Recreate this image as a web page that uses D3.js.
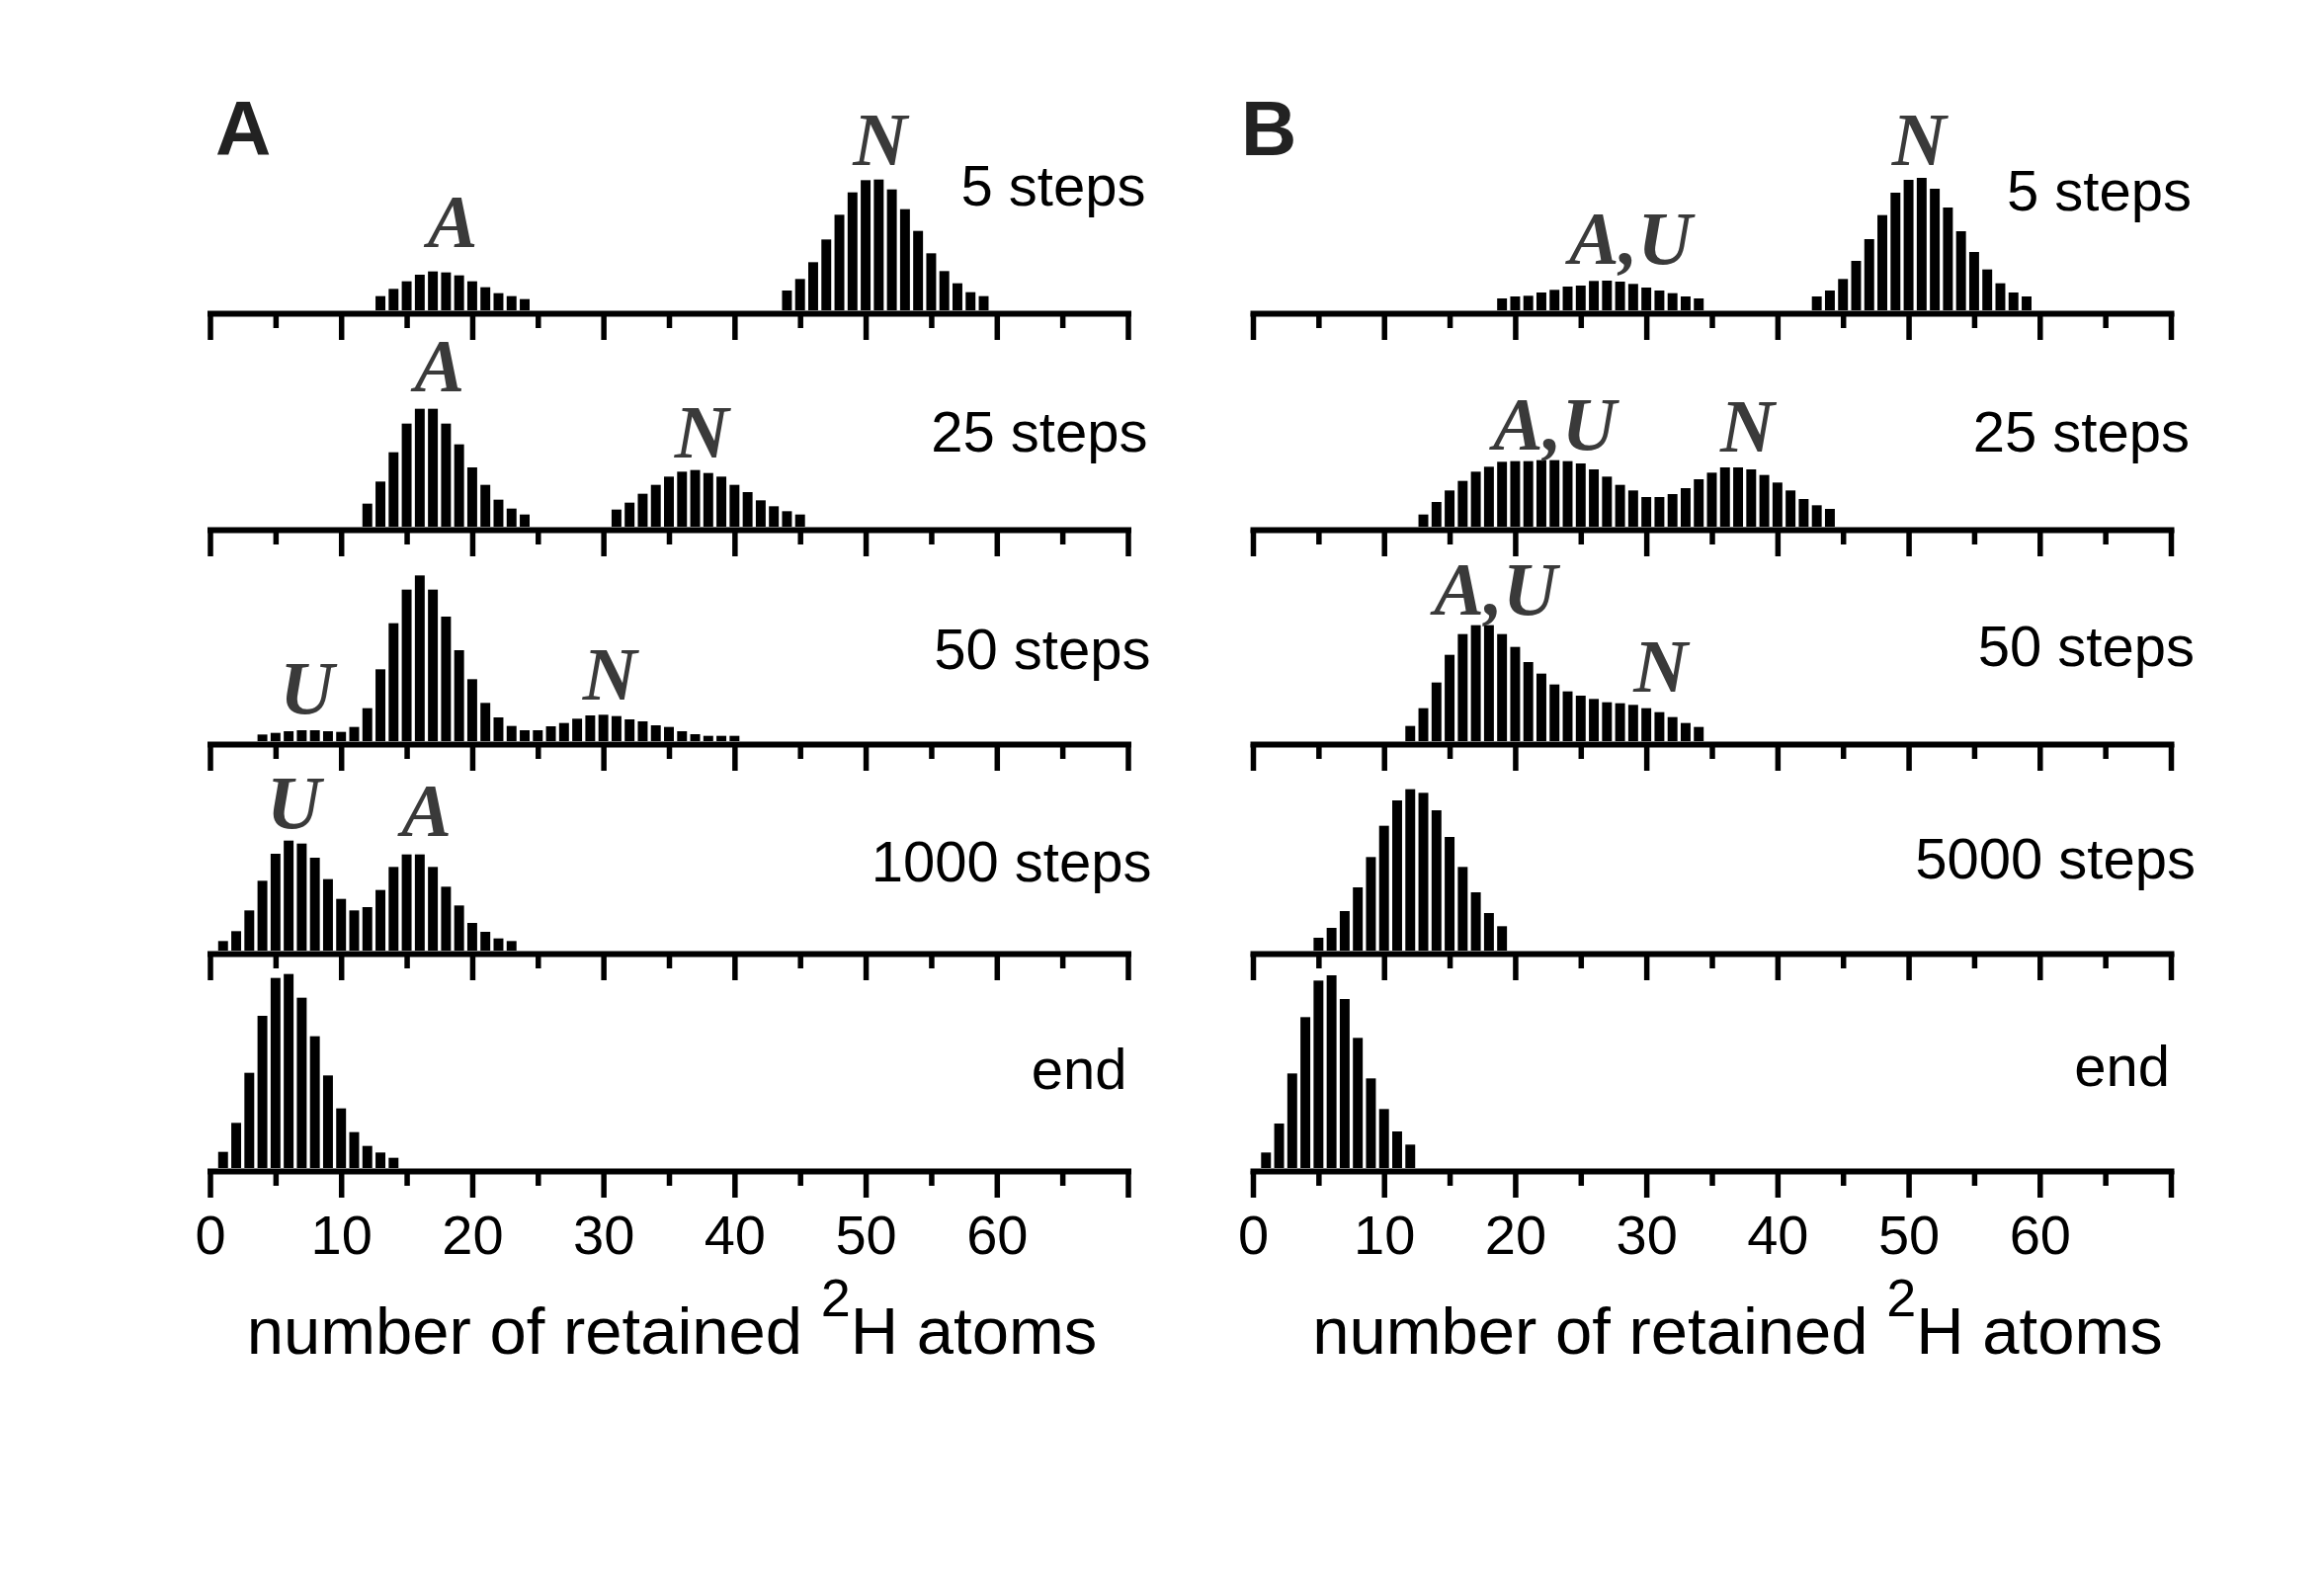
<!DOCTYPE html>
<html>
<head>
<meta charset="utf-8">
<script src="https://cdn.jsdelivr.net/npm/d3@7"></script>
<style>
  body { margin: 0; background: #fff; }
  svg { display: block; }
</style>
</head>
<body>
<svg id="chart" width="2352" height="1603"></svg>
<script>
// ---------------- DATA ----------------
// x: number of retained 2H atoms (bin centre = integer), counts in arbitrary units
const xTickValues = [0, 10, 20, 30, 40, 50, 60];
const panelLetters = ["A", "B"];
const stepLabelsA = ["5 steps", "25 steps", "50 steps", "1000 steps", "end"];
const stepLabelsB = ["5 steps", "25 steps", "50 steps", "5000 steps", "end"];
const axisTitle = "number of retained ";
const axisTitleSup = "2";
const axisTitleEnd = "H atoms";

// Panel A histograms (start bin + counts, zeros inside gaps)
const histA5 = { start: 13, counts: [43, 65, 88, 108, 118, 115, 106, 88, 70, 52, 43, 34,
  0, 0, 0, 0, 0, 0, 0, 0, 0, 0, 0, 0, 0, 0, 0, 0, 0, 0, 0,
  60, 95, 146, 215, 290, 358, 395, 397, 367, 307, 241, 173, 119, 82, 55, 43] };
const histA25 = { start: 12, counts: [70, 137, 226, 313, 358, 358, 313, 250, 180, 127, 82, 55, 37,
  0, 0, 0, 0, 0, 0,
  52, 73, 100, 127, 152, 167, 172, 163, 152, 127, 105, 80, 62, 47, 37] };
const histA50 = { start: 4, counts: [20, 25, 30, 33, 33, 30, 28, 43, 100, 218, 358, 460, 503, 460, 378,
  276, 188, 116, 72, 46, 33, 33, 45, 55, 68, 78, 80, 76, 66, 60, 48, 43, 30, 21, 16, 16, 16] };
const histA1000 = { start: 1, counts: [29, 59, 122, 212, 294, 334, 325, 282, 217, 157, 122, 132,
  184, 254, 292, 292, 254, 194, 137, 84, 57, 37, 29] };
const histAEnd = { start: 1, counts: [49, 137, 289, 462, 577, 589, 517, 400, 281, 181, 109, 67, 47, 31] };

// Panel B histograms
const histB5 = { start: 19, counts: [36, 42, 44, 54, 62, 72, 75, 89, 90, 87, 80, 69, 60, 52, 42, 36,
  0, 0, 0, 0, 0, 0, 0, 0,
  42, 60, 95, 150, 216, 289, 357, 396, 402, 369, 312, 240, 177, 124, 82, 54, 42] };
const histB25 = { start: 13, counts: [37, 75, 110, 139, 167, 182, 197, 199, 199, 202, 202, 199, 192,
  174, 152, 127, 110, 90, 90, 99, 117, 144, 164, 180, 180, 174, 157, 134, 110, 84, 65, 54] };
const histB50 = { start: 12, counts: [46, 100, 178, 262, 325, 352, 352, 325, 286, 240, 205, 172, 151,
  138, 128, 118, 115, 110, 100, 88, 73, 55, 43] };
const histB5000 = { start: 5, counts: [39, 69, 120, 192, 284, 379, 456, 490, 479, 426, 345, 254, 177, 114, 74] };
const histBEnd = { start: 1, counts: [47, 135, 287, 458, 569, 585, 513, 395, 272, 179, 111, 71] };

// Peak annotations (text, x in data units) per row
const peaksA = [
  [{ t: "A", x: 18.5 }, { t: "N", x: 51.1 }],
  [{ t: "A", x: 17.5 }, { t: "N", x: 37.5 }],
  [{ t: "U", x: 7.4 }, { t: "N", x: 30.5 }],
  [{ t: "U", x: 6.4 }, { t: "A", x: 16.5 }],
  []
];
const peaksB = [
  [{ t: "A,U", x: 28.8 }, { t: "N", x: 50.8 }],
  [{ t: "A,U", x: 23.0 }, { t: "N", x: 37.7 }],
  [{ t: "A,U", x: 18.5 }, { t: "N", x: 31.1 }],
  [],
  []
];

// ---------------- LAYOUT ----------------
const panelX0 = [212.5, 1268];
const panelW = 929;
const baselines = [314, 533, 750, 962, 1182];
const peakDyA = [[-64, -147], [-137, -70], [-28, -42], [-124, -116], []];
const peakDyB = [[-47, -147], [-78, -76], [-128, -50], [], []];
const stepDxA = [18, 20, 23, 24, -1];
const stepDxB = [21, 19, 24, 25, -1];
const stepDyA = [-106, -76, -73, -70, -80];
const stepDyB = [-101, -76, -76, -73, -83];
const titleDx = [3, 26];

const svg = d3.select("#chart");
svg.append("rect").attr("width", 2352).attr("height", 1603).attr("fill", "#fff");

const y = d3.scaleLinear().domain([0, 600]).range([0, 200]);
const barFrac = 0.75;
const sans = "'Liberation Sans', Arial, Helvetica, sans-serif";
const serif = "'Liberation Serif', 'Times New Roman', serif";

function drawPanel(pi, hists, stepLabels, peaks, peakDy, stepDx, stepDy) {
  const x = d3.scaleLinear().domain([0, 70]).range([panelX0[pi], panelX0[pi] + panelW]);
  const bw = x(barFrac) - x(0);

  hists.forEach((h, ri) => {
    const b = baselines[ri];
    const g = svg.append("g");
    const data = h.counts.map((c, i) => ({ bin: h.start + i, c })).filter(d => d.c > 0);

    g.selectAll("rect").data(data).join("rect")
      .attr("x", d => x(d.bin - barFrac / 2))
      .attr("width", bw)
      .attr("y", d => b - y(d.c))
      .attr("height", d => y(d.c))
      .attr("fill", "#000");

    // minor ticks
    const minor = d3.axisBottom(x)
      .tickValues(d3.range(5, 70, 10))
      .tickSize(15).tickSizeOuter(0).tickFormat("");
    const gm = svg.append("g").attr("transform", `translate(0,${b + 3})`).call(minor);
    gm.select(".domain").remove();
    gm.selectAll(".tick line").attr("stroke", "#000").attr("stroke-width", 5.5);

    // major ticks + domain
    const major = d3.axisBottom(x)
      .tickValues(d3.range(0, 71, 10))
      .tickSize(27).tickSizeOuter(0)
      .tickFormat(d => (ri === 4 && xTickValues.includes(d)) ? d : "");
    const ga = svg.append("g").attr("transform", `translate(0,${b + 3})`).call(major);
    ga.select(".domain").attr("stroke", "#000").attr("stroke-width", 6)
      .attr("stroke-linecap", "square");
    ga.selectAll(".tick line").attr("stroke", "#000").attr("stroke-width", 5.5);
    ga.selectAll(".tick text")
      .attr("y", 84).attr("dy", 0)
      .attr("fill", "#000")
      .style("font-family", sans).style("font-size", "56px");

    // step label
    svg.append("text")
      .attr("x", x(70) + stepDx[ri]).attr("y", b + stepDy[ri])
      .attr("text-anchor", "end")
      .style("font-family", sans).style("font-size", "58px").attr("fill", "#000")
      .text(stepLabels[ri]);

    // peak annotations
    peaks[ri].forEach((p, k) => {
      svg.append("text")
        .attr("x", x(p.x)).attr("y", b + peakDy[ri][k])
        .attr("text-anchor", "middle")
        .style("font-family", serif).style("font-size", "76px")
        .style("font-style", "italic").style("font-weight", "bold")
        .attr("fill", "#3a3a3a")
        .text(p.t);
    });
  });

  // axis title with superscript
  const t = svg.append("text")
    .attr("x", x(35) + titleDx[pi]).attr("y", 1370)
    .attr("text-anchor", "middle")
    .style("font-family", sans).style("font-size", "67px").attr("fill", "#000");
  t.append("tspan").text(axisTitle);
  t.append("tspan").attr("dy", -38).style("font-size", "54px").text(axisTitleSup);
  t.append("tspan").attr("dy", 38).text(axisTitleEnd);
}

drawPanel(0, [histA5, histA25, histA50, histA1000, histAEnd], stepLabelsA, peaksA, peakDyA, stepDxA, stepDyA);
drawPanel(1, [histB5, histB25, histB50, histB5000, histBEnd], stepLabelsB, peaksB, peakDyB, stepDxB, stepDyB);

// panel letters
svg.append("text").attr("x", 218).attr("y", 157)
  .style("font-family", sans).style("font-size", "78px").style("font-weight", "bold")
  .attr("fill", "#222").text(panelLetters[0]);
svg.append("text").attr("x", 1256).attr("y", 157)
  .style("font-family", sans).style("font-size", "78px").style("font-weight", "bold")
  .attr("fill", "#222").text(panelLetters[1]);
</script>
</body>
</html>
